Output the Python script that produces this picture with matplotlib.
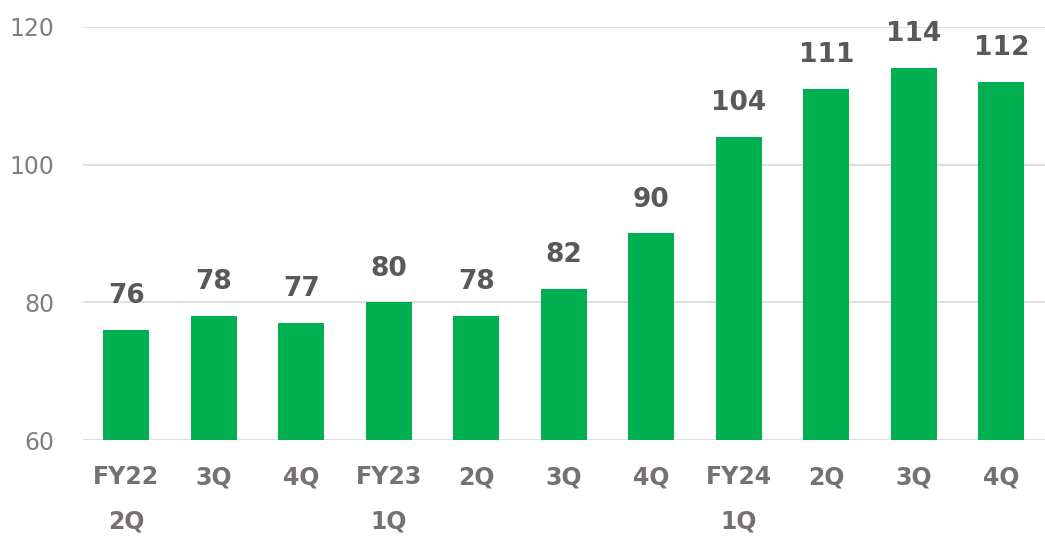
import matplotlib.pyplot as plt

categories = ['FY22\n2Q', '3Q', '4Q', 'FY23\n1Q', '2Q', '3Q', '4Q', 'FY24\n1Q', '2Q', '3Q', '4Q']
values = [76, 78, 77, 80, 78, 82, 90, 104, 111, 114, 112]
yticks = [60, 80, 100, 120]

plt.rcParams['font.family'] = ['DejaVu Sans']

fig = plt.figure(figsize=(10.45, 5.38), dpi=100)
ax = fig.add_axes([0.079, 0.182, 0.921, 0.768])

x = range(len(categories))
bars = ax.bar(x, values, width=0.53, color='#00B050', zorder=3)

for xi, v in zip(x, values):
    ax.annotate(str(v), (xi, v), xytext=(0, 15), textcoords='offset points',
                ha='center', va='bottom', fontsize=19, fontweight='bold',
                color='#595959')

ax.set_ylim(60, 120)
ax.set_xlim(-0.5, len(categories) - 0.5)
ax.set_yticks(yticks)
ax.set_xticks(list(x))
ax.set_xticklabels(categories, fontsize=17, fontweight='bold', color='#767171',
                   linespacing=2.1, va='top')
ax.tick_params(axis='y', labelsize=17, labelcolor='#808080', length=0, pad=20)
ax.tick_params(axis='x', length=0, pad=18)

ax.grid(axis='y', color='#D9D9D9', linewidth=1.2, zorder=0)
for s in ax.spines.values():
    s.set_visible(False)

fig.savefig('out.png', dpi=100)
